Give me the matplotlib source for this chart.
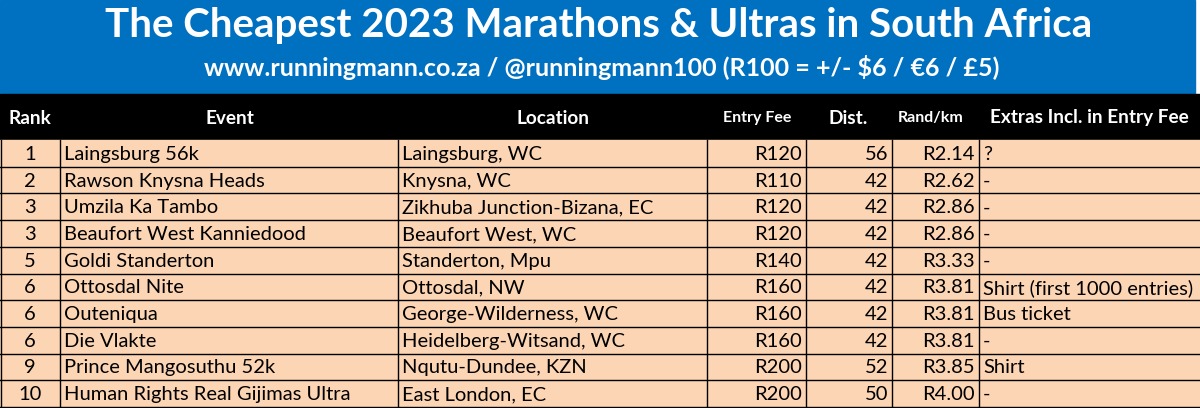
import matplotlib
matplotlib.use("Agg")
import matplotlib.pyplot as plt
from matplotlib.patches import Rectangle

plt.rcParams['font.family'] = ['Lato', 'DejaVu Sans']

title = "The Cheapest 2023 Marathons & Ultras in South Africa"
subtitle = "www.runningmann.co.za / @runningmann100 (R100 = +/- $6 / €6 / £5)"
headers = ["Rank", "Event", "Location", "Entry Fee", "Dist.", "Rand/km", "Extras Incl. in Entry Fee"]
ranks = ["1", "2", "3", "3", "5", "6", "6", "6", "9", "10"]
events = ["Laingsburg 56k", "Rawson Knysna Heads", "Umzila Ka Tambo", "Beaufort West Kanniedood",
          "Goldi Standerton", "Ottosdal Nite", "Outeniqua", "Die Vlakte",
          "Prince Mangosuthu 52k", "Human Rights Real Gijimas Ultra"]
locations = ["Laingsburg, WC", "Knysna, WC", "Zikhuba Junction-Bizana, EC", "Beaufort West, WC",
             "Standerton, Mpu", "Ottosdal, NW", "George-Wilderness, WC", "Heidelberg-Witsand, WC",
             "Nqutu-Dundee, KZN", "East London, EC"]
fees = [120, 110, 120, 120, 140, 160, 160, 160, 200, 200]
dists = [56, 42, 42, 42, 42, 42, 42, 42, 52, 50]
rand_km = [2.14, 2.62, 2.86, 2.86, 3.33, 3.81, 3.81, 3.81, 3.85, 4.00]
extras = ["?", "-", "-", "-", "-", "Shirt (first 1000 entries)", "Bus ticket", "-", "Shirt", "-"]

W, H = 1200, 408
fig = plt.figure(figsize=(12, 4.08), dpi=100)
ax = fig.add_axes([0, 0, 1, 1])
ax.set_xlim(0, W); ax.set_ylim(H, 0); ax.axis('off')

ax.add_patch(Rectangle((0, 0), 1195, 94, color='#0070C0'))
ax.text(599, 25, title, ha='center', va='center', color='white', fontsize=29, fontweight='bold')
ax.text(602, 68, subtitle, ha='center', va='center', color='white', fontsize=18, fontweight='bold')

ax.add_patch(Rectangle((0, 94), 1200, 46, color='black'))
cols = [0, 60, 398, 707, 806, 892, 979, 1200]
hx = [30, 230, 553, 757, 848, 931, 1089]
for h, x in zip(headers, hx):
    ax.text(x, 118, h, ha='center', va='center', color='white',
            fontsize=13.7 if h not in ("Entry Fee", "Rand/km") else 11.5, fontweight='bold')

top, rh = 140, 26.7
ax.add_patch(Rectangle((0, top), 1200, rh * 10, color='#FCD5B4'))
fs = 14.5
for i in range(10):
    y = top + rh * i
    yc = y + rh / 2 + 1
    vals = [ranks[i], events[i], locations[i], f"R{fees[i]}", f"{dists[i]}", f"R{rand_km[i]:.2f}", extras[i]]
    for j, v in enumerate(vals):
        if j == 0:
            ax.text(30, yc, v, ha='center', va='center', fontsize=fs)
        elif j in (1, 2, 6):
            ax.text(cols[j] + 4, yc, v, ha='left', va='center', fontsize=fs)
        else:
            ax.text(cols[j + 1] - 4, yc, v, ha='right', va='center', fontsize=fs)
    ax.plot([0, 1200], [y + rh, y + rh], color='black', lw=1)
for x in cols[1:-1]:
    ax.plot([x, x], [top, top + rh * 10], color='black', lw=1)
ax.plot([0.5, 0.5], [top, H], color='black', lw=1)

fig.savefig("out.png", dpi=100)
